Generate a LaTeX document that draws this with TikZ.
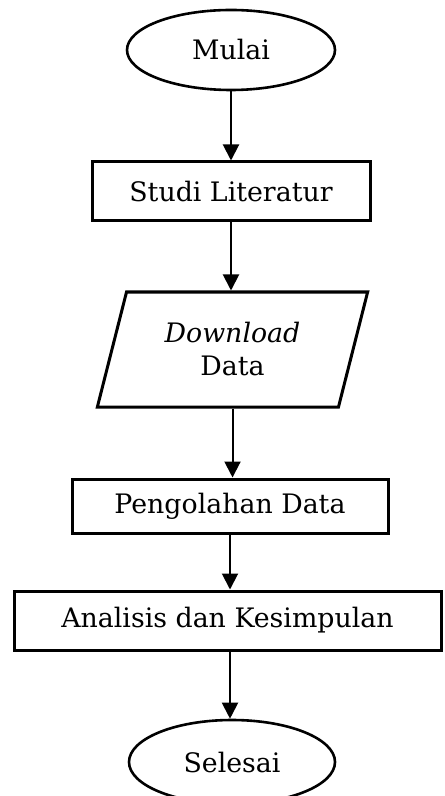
\documentclass[tikz,border=0pt]{standalone}
\usepackage{fontspec}
\setmainfont{DejaVu Serif}
\usepackage{tikz}
\usetikzlibrary{arrows.meta,shapes.geometric}

\begin{document}
\begin{tikzpicture}[x=0.5pt,y=-0.5pt,font=\fontsize{13.4}{16.5}\selectfont,
    kotak/.style={draw,rectangle,line width=1.5pt,minimum height=29.5pt},
    panah/.style={line width=1pt,-{Triangle[length=8pt,width=8pt]}}] % alur penelitian
  \useasboundingbox (0,0) rectangle (444,796);
  \node[draw,ellipse,line width=1.3pt,minimum width=104pt,minimum height=40pt] (mulai) at (231,50) {Mulai};
  \node[kotak,minimum width=139pt] (studi) at (231,191.5) {Studi Literatur};
  \node[draw,trapezium,trapezium left angle=73,trapezium right angle=107,trapezium stretches=true,
    line width=1.5pt,minimum width=135.5pt,minimum height=57.5pt,align=center] (unduh) at (232.5,349.5)
    {\textit{Download}\\Data};
  \node[kotak,minimum width=158pt,minimum height=27pt] (olah) at (230,506) {Pengolahan Data};
  \node[kotak,minimum width=213.5pt] (analisis) at (227.5,620.5) {Analisis dan Kesimpulan};
  \node[draw,ellipse,line width=1.3pt,minimum width=103pt,minimum height=42pt] (selesai) at (232,762) {Selesai};
  \draw[panah] (mulai) -- (studi);
  \draw[panah] (studi.south) -- (studi.south |- unduh.north);
  \draw[panah] (unduh.south) -- (unduh.south |- olah.north);
  \draw[panah] (olah.south) -- (olah.south |- analisis.north);
  \draw[panah] (olah.south |- analisis.south) -- (olah.south |- selesai.north);
\end{tikzpicture}
\end{document}
